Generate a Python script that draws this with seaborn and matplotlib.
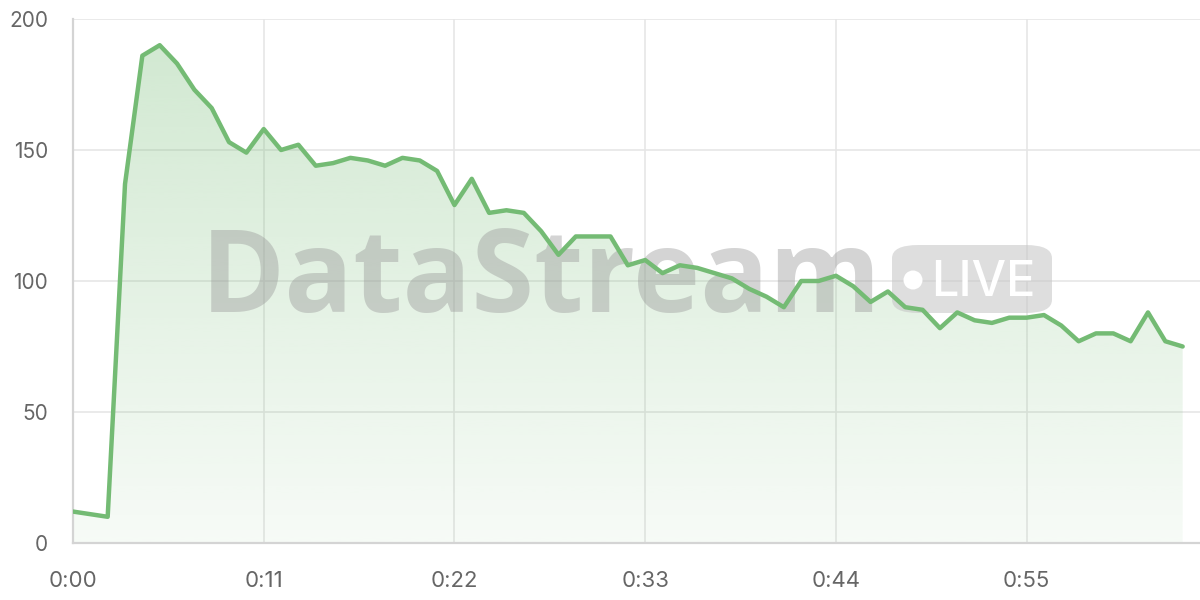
import numpy as np
import pandas as pd
import matplotlib
matplotlib.use("Agg")
import matplotlib.pyplot as plt
import seaborn as sns
from matplotlib.patches import FancyBboxPatch, Ellipse

# seconds since start and value per second
seconds = list(range(65))
values = [12, 11, 10, 137, 186, 190, 183, 173, 166, 153,
          149, 158, 150, 152, 144, 145, 147, 146, 144, 147,
          146, 142, 129, 139, 126, 127, 126, 119, 110, 117,
          117, 117, 106, 108, 103, 106, 105, 103, 101, 97,
          94, 90, 100, 100, 102, 98, 92, 96, 90, 89,
          82, 88, 85, 84, 86, 86, 87, 83, 77, 80,
          80, 77, 88, 77, 75]
x_ticks = [0, 11, 22, 33, 44, 55]
y_ticks = [0, 50, 100, 150, 200]

LINE = "#74bb74"
GRID = "#e6e6e6"

df = pd.DataFrame({"t": seconds, "v": values})

sns.set_style("white")
plt.rcParams["font.family"] = ["Inter", "DejaVu Sans"]

fig = plt.figure(figsize=(12, 6), dpi=100)
ax = fig.add_axes([73 / 1200, 1 - 543 / 600, 1 - 73 / 1200, (543 - 19) / 600])
ax.set_xlim(0, 65)
ax.set_ylim(0, 200)

# gradient fill under the line
poly = ax.fill_between(df["t"], df["v"], 0, color="none", lw=0)
rgba = np.zeros((256, 1, 4))
rgba[..., :3] = matplotlib.colors.to_rgb(LINE)
rgba[:, 0, 3] = np.linspace(0.06, 0.34, 256)
img = ax.imshow(rgba, aspect="auto", extent=[0, 64, 0, 200],
                origin="lower", zorder=1, interpolation="bilinear")
img.set_clip_path(poly.get_paths()[0], transform=ax.transData)

# watermark
ax.text((541 - 73) / 1127, (543 - 312) / 524, "DataStream", transform=ax.transAxes,
        ha="center", va="baseline", fontsize=82, fontweight="bold",
        family=["Open Sans", "DejaVu Sans"], color="#999999", alpha=0.42, zorder=2)
badge = FancyBboxPatch((892 / 1200, 1 - 313 / 600), 160 / 1200, 68 / 600,
                       boxstyle="round,pad=0,rounding_size=0.022",
                       transform=fig.transFigure, facecolor="#c4c4c4", alpha=0.55,
                       edgecolor="none", zorder=2, clip_on=False)
ax.add_patch(badge)
ax.add_patch(Ellipse((913 / 1200, 1 - 280 / 600), 19 / 1200, 19 / 600,
                     transform=fig.transFigure, facecolor="white", edgecolor="none",
                     zorder=3, clip_on=False))
ax.text(983 / 1200, 1 - 296 / 600, "LIVE", transform=fig.transFigure, ha="center",
        va="baseline", fontsize=35, fontweight="medium", color="white", zorder=3)

sns.lineplot(data=df, x="t", y="v", ax=ax, color=LINE, lw=3.2, zorder=4)

ax.set_xticks(x_ticks)
ax.set_xticklabels([f"0:{s:02d}" for s in x_ticks])
ax.set_yticks(y_ticks)
ax.set_xlabel("")
ax.set_ylabel("")
ax.grid(True, color=GRID, lw=1.2, zorder=0)
ax.set_axisbelow(True)
for side in ["top", "right"]:
    ax.spines[side].set_visible(False)
for side in ["left", "bottom"]:
    ax.spines[side].set_color("#d4d4d4")
    ax.spines[side].set_linewidth(1.6)
ax.tick_params(axis="both", which="both", length=11, width=1.2, color=GRID,
               labelcolor="#666666")
ax.tick_params(axis="x", labelsize=16, pad=9)
ax.tick_params(axis="y", labelsize=15, pad=7)

fig.savefig("out.png", dpi=100)
